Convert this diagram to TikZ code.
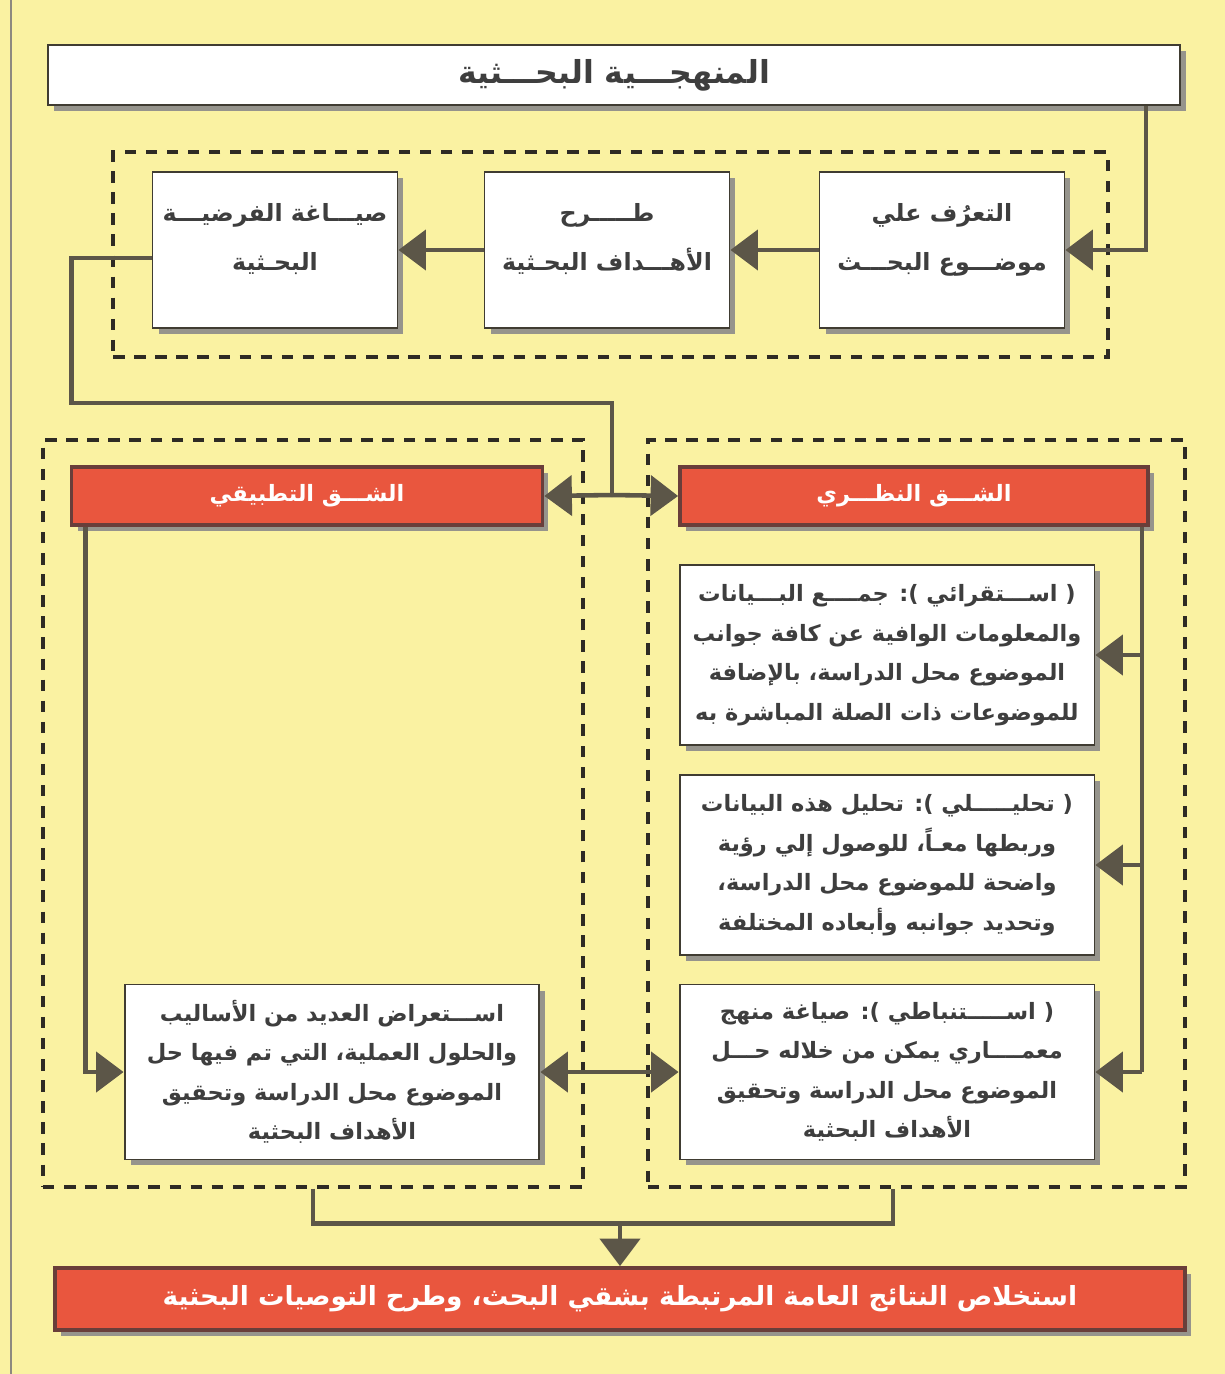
\documentclass[tikz,border=0pt]{standalone}
\usepackage{fontspec}
\newfontfamily\arabicfont[Script=Arabic]{DejaVu Sans}
\TeXXeTstate=1
\usetikzlibrary{arrows.meta,shadows,calc}
\newcommand{\ar}[1]{\beginR #1\endR}
\definecolor{bgy}{RGB}{250,242,162}
\definecolor{redfill}{RGB}{233,86,62}
\definecolor{redborder}{RGB}{105,62,58}
\definecolor{linec}{RGB}{92,86,72}
\definecolor{txt}{RGB}{62,62,62}
\definecolor{shadowc}{RGB}{150,148,140}
\tikzset{
  whitebox/.style={draw=linec!70!black, line width=1.1pt, fill=white, text=txt, align=center,
    drop shadow={shadow xshift=0.12cm, shadow yshift=-0.12cm, fill=shadowc, opacity=1}},
  redbox/.style={draw=redborder, line width=2.2pt, fill=redfill, text=white, align=center,
    minimum height=1.16cm,
    drop shadow={shadow xshift=0.12cm, shadow yshift=-0.12cm, fill=shadowc, opacity=1}},
  dashbox/.style={draw=linec!50!black, line width=2pt, dash pattern=on 6.5pt off 5.5pt},
  conn/.style={draw=linec, line width=2.6pt},
  arr/.style={conn, -{Triangle[length=0.55cm,width=0.8cm]}},
  darr/.style={conn, {Triangle[length=0.55cm,width=0.8cm]}-{Triangle[length=0.55cm,width=0.8cm]}},
  bodytext/.style={font=\fontsize{12.8}{22.5}\selectfont\arabicfont\bfseries},
  toptext/.style={font=\fontsize{13.5}{28}\selectfont\arabicfont\bfseries, text depth=15pt},
  headtext/.style={font=\fontsize{12.8}{18}\selectfont\arabicfont\bfseries},
}
\begin{document}
\begin{tikzpicture}[x=0.02cm, y=-0.02cm]
\useasboundingbox (0,0) rectangle (1225,1374);
\fill[bgy] (0,0) rectangle (1225,1374);
\draw[linec!70, line width=1.2pt] (11,0) -- (11,1374);

% dashed groups
\node[dashbox, minimum width=19.9cm, minimum height=4.1cm] (dtop) at (610.5,254.5) {};
\node[dashbox, minimum width=10.8cm, minimum height=14.94cm] (dl) at (313,813.5) {};
\node[dashbox, minimum width=10.74cm, minimum height=14.94cm] (dr) at (916.5,813.5) {};

% title
\node[whitebox, minimum width=22.64cm, minimum height=1.2cm, font=\fontsize{18}{22}\selectfont\arabicfont\bfseries] (title) at (614,75) {\ar{المنهجـــية البحـــثية}};

% top row
\node[whitebox, toptext, minimum width=4.9cm, minimum height=3.12cm] (r1) at (942,250) {\ar{التعرُف علي}\\\ar{موضـــوع البحـــث}};
\node[whitebox, toptext, minimum width=4.9cm, minimum height=3.12cm] (m1) at (607,250) {\ar{طـــــرح}\\\ar{الأهـــداف البحـثية}};
\node[whitebox, toptext, minimum width=4.9cm, minimum height=3.12cm] (l1) at (275,250) {\ar{صيـــاغة الفرضيـــة}\\\ar{البحـثية}};

% red headers
\node[redbox, minimum width=9.42cm, headtext] (redL) at (307,496) {\ar{الشـــق التطبيقي}};
\node[redbox, minimum width=9.36cm, headtext] (redR) at (914,496) {\ar{الشـــق النظـــري}};

% right boxes
\node[whitebox, bodytext, minimum width=8.3cm, minimum height=3.6cm] (a) at (887,655)
  {\ar{( اســـتقرائي ): جمــــع البـــيانات}\\\ar{والمعلومات الوافية عن كافة جوانب}\\\ar{الموضوع محل الدراسة، بالإضافة}\\\ar{للموضوعات ذات الصلة المباشرة به}};
\node[whitebox, bodytext, minimum width=8.3cm, minimum height=3.6cm] (b) at (887,865)
  {\ar{( تحليـــــلي ): تحليل هذه البيانات}\\\ar{وربطها معـاً، للوصول إلي رؤية}\\\ar{واضحة للموضوع محل الدراسة،}\\\ar{وتحديد جوانبه وأبعاده المختلفة}};
\node[whitebox, bodytext, minimum width=8.3cm, minimum height=3.5cm] (c) at (887,1072)
  {\ar{( اســـــتنباطي ): صياغة منهج}\\\ar{معمــــاري يمكن من خلاله حـــل}\\\ar{الموضوع محل الدراسة وتحقيق}\\\ar{الأهداف البحثية}};
% left box
\node[whitebox, bodytext, minimum width=8.3cm, minimum height=3.5cm] (lbox) at (332,1072)
  {\ar{اســـتعراض العديد من الأساليب}\\\ar{والحلول العملية، التي تم فيها حل}\\\ar{الموضوع محل الدراسة وتحقيق}\\\ar{الأهداف البحثية}};

% bottom bar
\node[redbox, minimum width=22.6cm, minimum height=1.24cm, font=\fontsize{15}{20}\selectfont\arabicfont\bfseries] (bot) at (620,1299)
  {\ar{استخلاص النتائج العامة المرتبطة بشقي البحث، وطرح التوصيات البحثية}};

% connectors: top
\draw[arr] ([xshift=-0.7cm]title.south east) |- (r1.east);
\draw[arr] (r1.west) -- (m1.east);
\draw[arr] (m1.west) -- (l1.east);
\coordinate (k) at (612,403);
\coordinate (j) at (612,495);
\draw[conn] ([yshift=-0.16cm]l1.west) -- ++(-80,0) |- (k) -- (j);
\draw[arr] (j) -- (redL.east);
\draw[arr] (j) -- (redR.west);

% right bus
\coordinate (rb) at ([xshift=-0.16cm]redR.south east);
\draw[conn] (rb) -- (rb |- c.east);
\foreach \n in {a,b,c} \draw[arr] (rb |- \n.east) -- (\n.east);

% left bus
\coordinate (lb) at ([xshift=0.32cm]redL.south west);
\draw[arr] (lb) |- (lbox.west);
\draw[darr] (lbox.east) -- (c.west);

% bottom
\coordinate (bj) at ($(dl.south)+(0,35)$);
\draw[conn] (dl.south) -- (bj) -| ([xshift=-0.47cm]dr.south);
\draw[arr] (bot.north |- bj) -- (bot.north);
\end{tikzpicture}
\end{document}
